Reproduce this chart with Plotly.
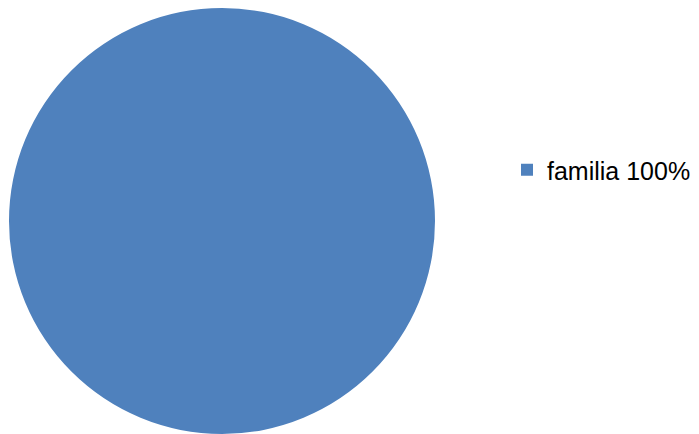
import plotly.graph_objects as go

labels = ["familia 100%"]
values = [100]
colors = ["#4F81BD"]

# page body has an 8px margin; size figure to fit the window
OFF = 8
W, H = 699 - OFF, 434 - OFF
cx, cy, r = 222 - OFF, 221 - OFF, 213

fig = go.Figure(go.Pie(
    labels=labels,
    values=values,
    marker=dict(colors=colors, line=dict(width=0)),
    textinfo="none",
    sort=False,
    hoverinfo="label",
    domain=dict(x=[max(0, (cx - r) / W), (cx + r) / W],
                y=[max(0, (H - cy - r) / H), min(1, (H - cy + r) / H)]),
))

fig.update_layout(
    width=W, height=H,
    margin=dict(l=0, r=0, t=0, b=0),
    paper_bgcolor="white",
    showlegend=True,
    legend=dict(
        x=(547 - OFF - 40) / W, xanchor="left",
        y=(H - (170 - OFF)) / H, yanchor="middle",
        font=dict(family="Liberation Sans, Arial, sans-serif", size=25, color="#000000"),
        bgcolor="rgba(0,0,0,0)",
    ),
)

fig.write_html("out.html")
